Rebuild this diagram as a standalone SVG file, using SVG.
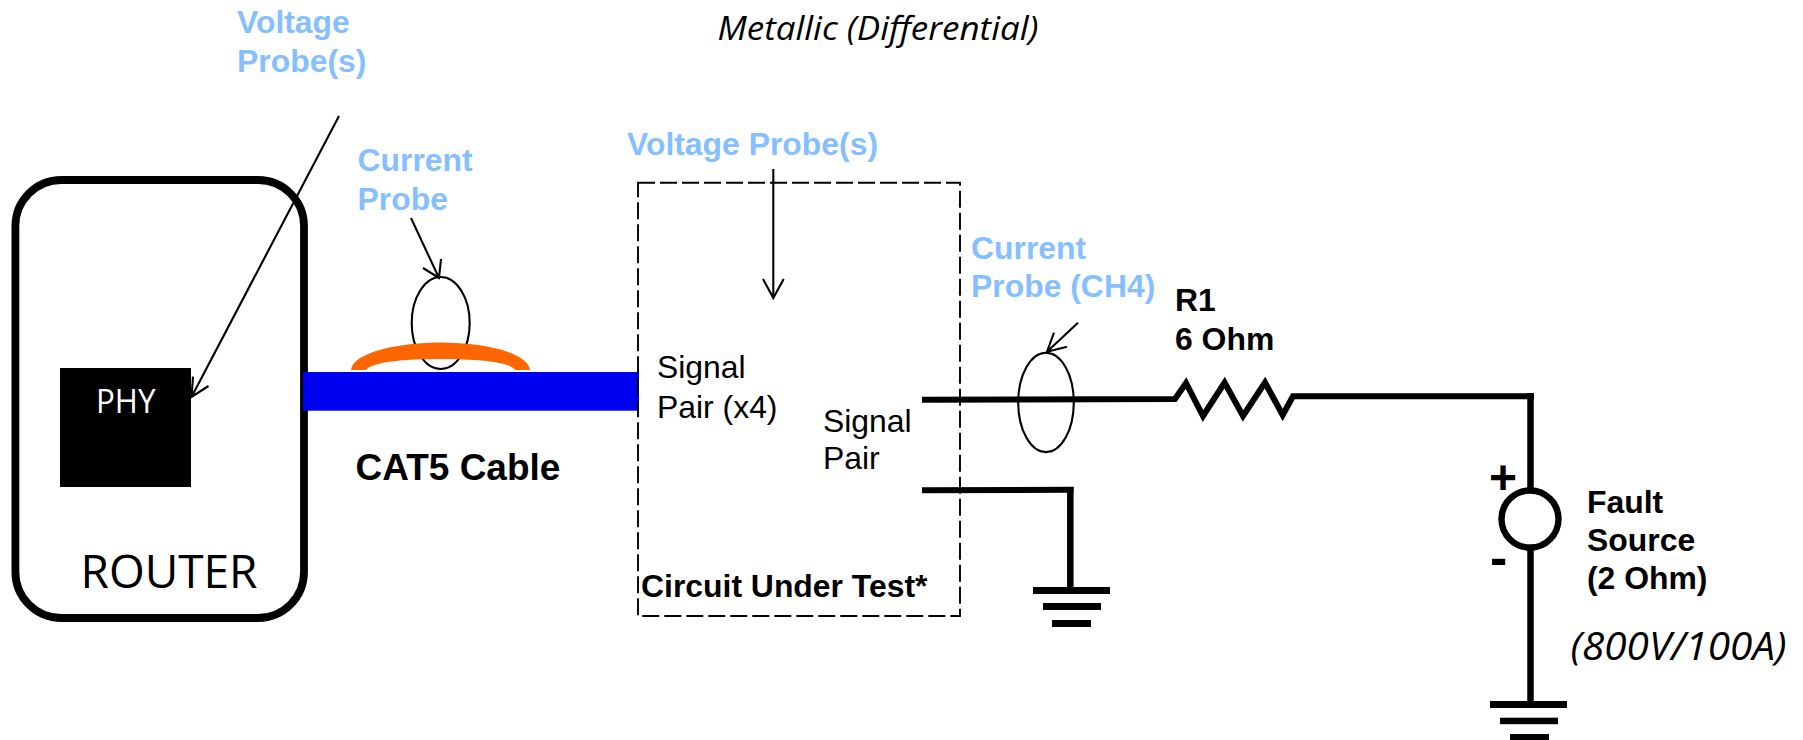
<svg xmlns="http://www.w3.org/2000/svg" width="1803" height="740" viewBox="0 0 1803 740">
<style>
text{font-family:"Liberation Sans",Arial,sans-serif;font-size:31.9px;fill:#000}
.b{font-weight:bold}
.p{font-weight:bold;fill:#86bfff}
.o{font-family:"Open Sans","Noto Sans",sans-serif}
.i{font-family:"Open Sans","Noto Sans",sans-serif;font-style:italic}
.w{fill:none;stroke:#000;stroke-width:6;stroke-linejoin:miter}
.t{fill:none;stroke:#000;stroke-width:2.1}
.k{fill:#000;stroke:none}
</style>
<rect width="1803" height="740" fill="#fff"/>
<g id="router">
<rect x="15.4" y="180" width="288.6" height="438" rx="46" ry="46" fill="#fff" stroke="#000" stroke-width="7.8"/>
<text x="80.5" y="587.5" class="o" style="font-size:46px" textLength="177" lengthAdjust="spacingAndGlyphs">ROUTER</text>
</g>
<g id="phy">
<rect x="60" y="368" width="131" height="119" fill="#000"/>
<text x="96" y="412.7" class="o" style="font-size:32px;fill:#fff" textLength="59.5" lengthAdjust="spacingAndGlyphs">PHY</text>
</g>
<g id="cable">
<rect x="303" y="372" width="336" height="38.7" fill="#0000f0"/>
<text x="355.5" y="480" class="b" style="font-size:37px">CAT5 Cable</text>
</g>
<g id="current-probe-1">
<ellipse cx="440.7" cy="323" rx="29" ry="46" class="t"/>
<path d="M351 370C353 352 400 342.5 441 342.5C482 342.5 528 352 530 370L515 370C510 362 480 359 441 359C402 359 372 362 366 370Z" fill="#ff6600"/>
<text x="357.5" y="171" class="p">Current</text>
<text x="357.5" y="210" class="p">Probe</text>
</g>
<g id="voltage-probe-1">
<text x="237" y="33" class="p">Voltage</text>
<text x="237" y="72" class="p">Probe(s)</text>
</g>
<g id="circuit-under-test">
<rect x="638" y="182.7" width="322" height="433.3" fill="none" stroke="#000" stroke-width="1.9" stroke-dasharray="17 5"/>
<text x="641" y="597" class="b">Circuit Under Test*</text>
<text x="657" y="378">Signal</text>
<text x="657" y="417.5">Pair (x4)</text>
<text x="823" y="431.5">Signal</text>
<text x="823" y="469">Pair</text>
</g>
<g id="voltage-probe-2">
<text x="627" y="155" class="p">Voltage Probe(s)</text>
</g>
<g id="current-probe-2">
<ellipse cx="1046" cy="402.4" rx="27.8" ry="49.7" class="t"/>
<text x="971" y="259" class="p">Current</text>
<text x="971" y="297" class="p">Probe (CH4)</text>
</g>
<g id="r1">
<text x="1175" y="311" class="b">R1</text>
<text x="1175" y="350" class="b">6 Ohm</text>
</g>
<g id="fault-source">
<circle cx="1530" cy="519" r="28.5" fill="#fff" stroke="#000" stroke-width="6.4"/>
<text x="1489" y="494" class="b" style="font-size:48px">+</text>
<text x="1490" y="575" class="b" style="font-size:52px">-</text>
<text x="1587" y="513" class="b">Fault</text>
<text x="1587" y="551" class="b">Source</text>
<text x="1587" y="589" class="b">(2 Ohm)</text>
<text x="1570.5" y="660" class="i" style="font-size:38.5px" textLength="216" lengthAdjust="spacingAndGlyphs">(800V/100A)</text>
</g>
<g id="ground-1">
<rect x="1033" y="587" width="77" height="7" class="k"/>
<rect x="1043" y="603" width="58" height="7" class="k"/>
<rect x="1052" y="620" width="39" height="7" class="k"/>
</g>
<g id="ground-2">
<rect x="1490" y="701" width="77" height="7" class="k"/>
<rect x="1500" y="717.7" width="58" height="6.5" class="k"/>
<rect x="1510" y="734" width="39" height="6" class="k"/>
</g>
<g id="title">
<text x="717.5" y="39.5" class="i" style="font-size:33px" textLength="321" lengthAdjust="spacingAndGlyphs">Metallic (Differential)</text>
</g>
<g id="connectors">
<path class="w" d="M922 399.7L1175 399L1186 383L1203 416L1224.6 382.5L1243 416L1265 382.5L1282.7 415L1293 396.3L1534 396.3"/>
<path class="w" d="M1530.5 393V488M1530.5 550V702" style="stroke-width:6.5"/>
<path class="w" d="M922 490.3L1073.5 489.7"/>
<path class="w" d="M1070.3 487V587" style="stroke-width:6.5"/>
<path class="t" d="M339 116L191.5 397M208.5 386L191.5 397L193 376.7"/>
<path class="t" d="M411 218L439 278M423 268L439 278L441 259"/>
<path class="t" d="M773.3 169V298M763 279L773.3 298L783.7 279"/>
<path class="t" d="M1078 322.7L1047 351.7M1054 332.7L1047 351.7L1067 346.7"/>
</g>
</svg>
